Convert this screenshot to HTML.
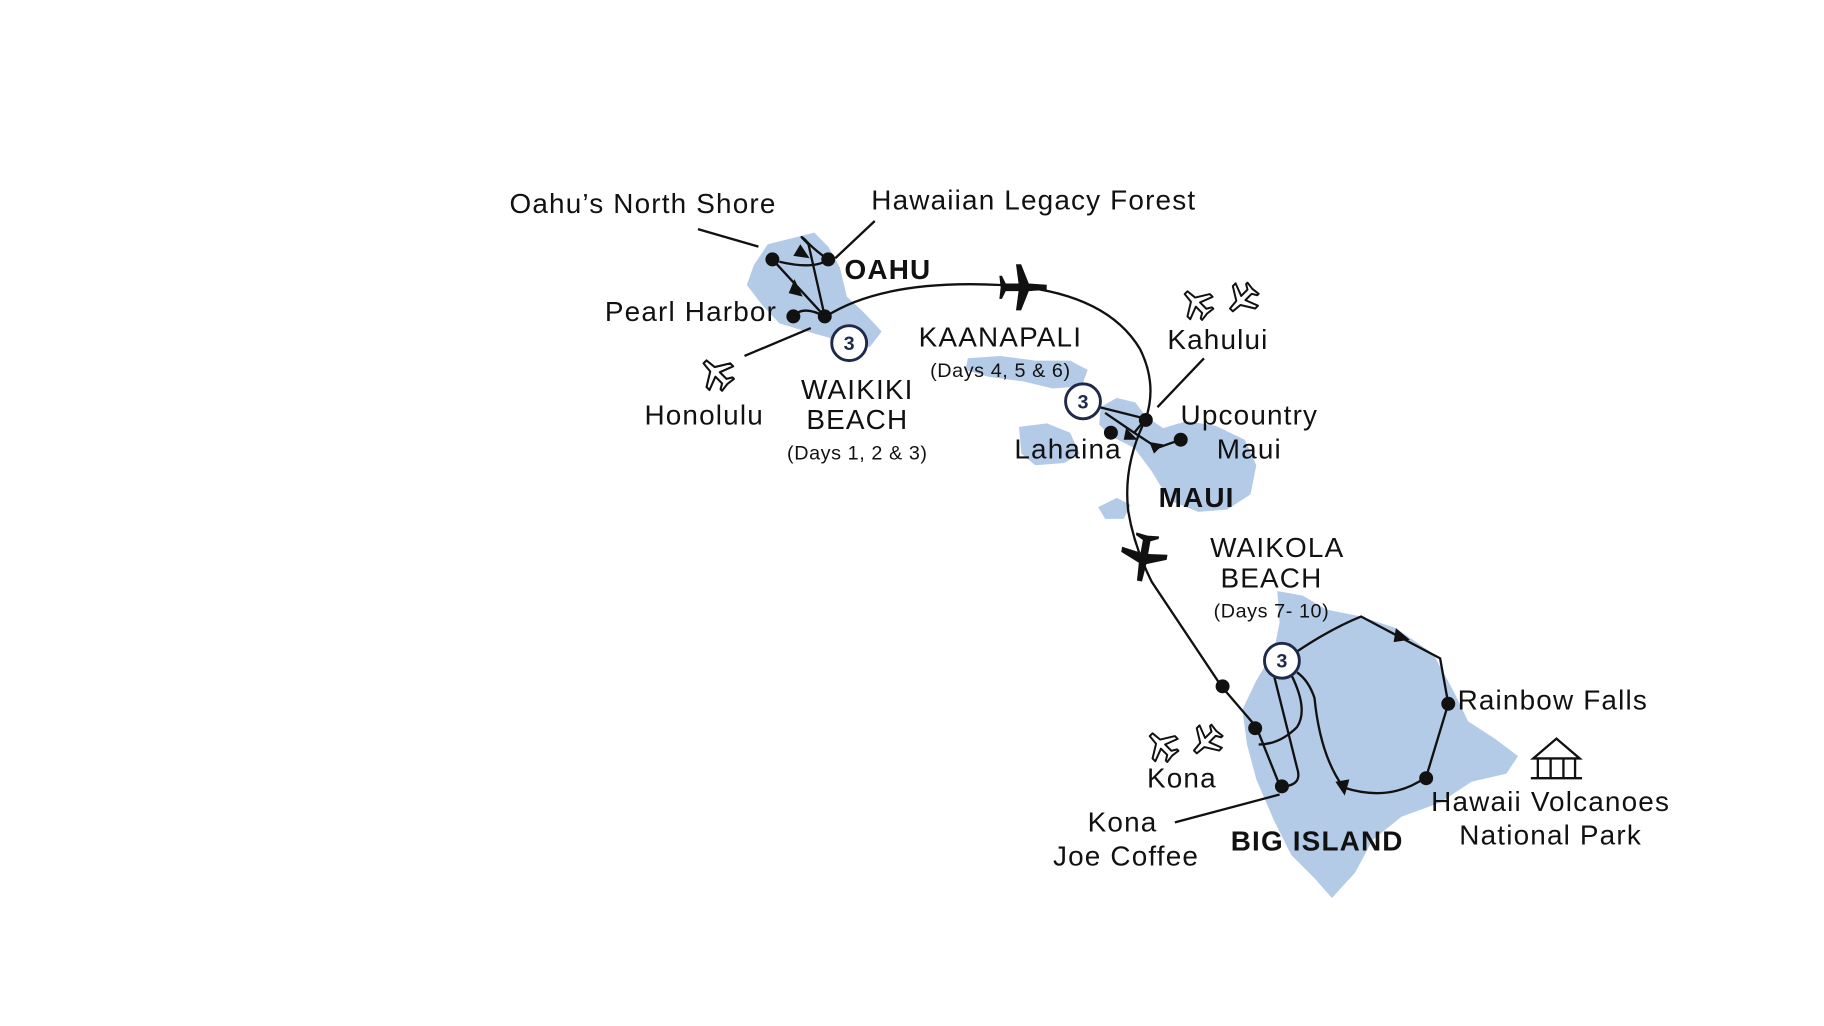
<!DOCTYPE html>
<html><head><meta charset="utf-8"><style>
html,body{margin:0;padding:0;background:#fff;}
svg{display:block;}
text{font-family:"Liberation Sans",sans-serif;fill:#111;}
.l{font-size:24px;letter-spacing:1px;}
.s{font-size:17px;letter-spacing:0.5px;}
.b{font-size:24px;font-weight:bold;letter-spacing:1px;}
</style></head><body>
<svg width="1824" height="1026" viewBox="0 0 1568 882" xmlns="http://www.w3.org/2000/svg">
<defs>
<symbol id="po" viewBox="-20 -20 40 40"><path d="M-14,-2 L-4,-3 L4,-16 L8,-16 L3,-3 L12,-3 L15,-8 L17,-8 L16,0 L17,8 L15,8 L12,3 L3,3 L8,16 L4,16 L-4,3 L-14,2 Z" fill="none" stroke="#111" stroke-width="2" stroke-linejoin="round"/></symbol>
<symbol id="pf" viewBox="-20 -20 40 40"><path d="M-18,-2 L-4,-3 L2,-18 L6,-18 L4,-3 L14,-3 L17,-9 L19,-9 L18,0 L19,9 L17,9 L14,3 L4,3 L6,18 L2,18 L-4,3 L-18,2 Z" fill="#111"/></symbol>
</defs>
<g fill="#b4cbe8">
<path d="M648,228 L660,210 L680,205 L700,200 L712,212 L722,230 L728,255 L742,268 L758,285 L748,298 L730,300 L712,290 L690,284 L670,278 L655,262 L642,245 Z"/>
<path d="M832,308 L860,306 L890,310 L920,310 L935,318 L930,332 L905,334 L880,328 L850,324 L830,318 Z"/>
<path d="M876,367 L900,364 L920,372 L928,390 L915,398 L890,400 L878,390 Z"/>
<path d="M944,436 L960,428 L972,434 L966,446 L950,446 Z"/>
<path d="M946,350 L960,342 L976,346 L985,358 L1000,368 L1020,362 L1045,366 L1070,378 L1080,400 L1075,425 L1055,438 L1030,440 L1005,430 L990,405 L975,385 L955,375 L945,365 Z"/>
<path d="M1098,508 L1120,512 L1140,524 L1170,530 L1200,540 L1232,562 L1250,595 L1262,620 L1285,635 L1305,650 L1295,665 L1265,672 L1238,690 L1205,702 L1180,722 L1165,750 L1145,772 L1130,755 L1110,735 L1095,705 L1080,670 L1072,640 L1068,610 L1080,585 L1095,560 L1100,535 Z"/>
</g>
<g fill="none" stroke="#111" stroke-width="2">
<path d="M710,272 Q760,240 860,245 Q950,250 980,300 Q995,330 985,360"/>
<path d="M709,272 L664,223"/><path d="M709,272 L695,210 Q685,200 692,206 Q700,215 712,223 Q700,232 670,225"/>
<path d="M709,272 Q690,262 682,272"/>
<path d="M985,360 Q965,400 970,440 Q975,470 990,500 L1050,590 L1080,625 L1100,675"/>
<path d="M945,350 L985,360 L975,372 M950,355 L975,372 L995,385 L1015,378"/>
<path d="M1115,560 Q1145,540 1170,530 L1238,566 L1245,605 L1226,668 Q1195,690 1155,677 Q1135,650 1130,600 Q1125,585 1115,578"/>
<path d="M1095,580 L1115,660 Q1120,675 1103,676"/>
<path d="M1110,580 Q1125,610 1115,625 Q1100,640 1082,640"/>
<path d="M652,212 L600,197 M718,222 L752,190 M697,282 L640,306 M995,350 L1035,308 M1100,683 L1010,707"/>
</g>
<g fill="#111">
<circle cx="664" cy="223" r="6"/><circle cx="712" cy="223" r="6"/><circle cx="682" cy="272" r="6"/><circle cx="709" cy="272" r="6"/>
<circle cx="985" cy="361" r="6"/><circle cx="955" cy="372" r="6"/><circle cx="1015" cy="378" r="6"/>
<circle cx="1051" cy="590" r="6"/><circle cx="1079" cy="626" r="6"/><circle cx="1102" cy="676" r="6"/><circle cx="1245" cy="605" r="6"/><circle cx="1226" cy="669" r="6"/>
<path d="M683,240 L690,255 L678,252Z"/><path d="M688,210 L696,222 L682,220Z"/>
<path d="M968,368 L978,378 L966,378Z"/><path d="M988,380 L1000,382 L992,390Z"/>
<path d="M1200,540 L1212,550 L1198,552Z"/><path d="M1148,672 L1160,670 L1156,684Z"/>
</g>
<g transform="translate(880,247) rotate(180)"><use href="#pf" x="-22" y="-22" width="44" height="44"/></g>
<g transform="translate(983,480) rotate(-80)"><use href="#pf" x="-22" y="-22" width="44" height="44"/></g>
<g transform="translate(615,320) rotate(45)"><use href="#po" x="-18" y="-18" width="36" height="36"/></g>
<g transform="translate(1028,260) rotate(45)"><use href="#po" x="-17" y="-17" width="34" height="34"/></g>
<g transform="translate(1067,258) rotate(-45)"><use href="#po" x="-17" y="-17" width="34" height="34"/></g>
<g transform="translate(998,640) rotate(45)"><use href="#po" x="-17" y="-17" width="34" height="34"/></g>
<g transform="translate(1036,638) rotate(-45)"><use href="#po" x="-17" y="-17" width="34" height="34"/></g>
<g fill="none" stroke="#111" stroke-width="2"><path d="M1318,652 L1338,635 L1358,652 Z M1322,652 L1322,668 M1333,652 L1333,668 M1344,652 L1344,668 M1354,652 L1354,668 M1316,669 L1360,669"/></g>
<g fill="#fff" stroke="#1f2a4a" stroke-width="2.5">
<circle cx="730" cy="295" r="15"/><circle cx="931" cy="345" r="15"/><circle cx="1102" cy="568" r="15"/>
</g>
<g font-size="17" font-weight="bold" text-anchor="middle"><text x="730" y="301" style="fill:#1f2a4a">3</text><text x="931" y="351" style="fill:#1f2a4a">3</text><text x="1102" y="574" style="fill:#1f2a4a">3</text></g>
<text class="l" x="438" y="183">Oahu’s North Shore</text>
<text class="l" x="749" y="180">Hawaiian Legacy Forest</text>
<text class="b" x="726" y="240">OAHU</text>
<text class="l" x="520" y="276">Pearl Harbor</text>
<text class="l" x="554" y="365">Honolulu</text>
<g text-anchor="middle"><text class="l" x="737" y="343">WAIKIKI</text><text class="l" x="737" y="369">BEACH</text><text class="s" x="737" y="395">(Days 1, 2 &amp; 3)</text>
<text class="l" x="860" y="298">KAANAPALI</text><text class="s" x="860" y="324">(Days 4, 5 &amp; 6)</text>
<text class="l" x="1047" y="300">Kahului</text>
<text class="l" x="1074" y="365">Upcountry</text><text class="l" x="1074" y="394">Maui</text>
<text class="l" x="1098" y="479">WAIKOLA</text><text class="l" x="1093" y="505">BEACH</text><text class="s" x="1093" y="531">(Days 7- 10)</text>
<text class="l" x="1016" y="677">Kona</text>
<text class="l" x="965" y="715">Kona</text><text class="l" x="968" y="744">Joe Coffee</text>
<text class="l" x="1333" y="697">Hawaii Volcanoes</text><text class="l" x="1333" y="726">National Park</text>
</g>
<text class="l" x="872" y="394">Lahaina</text>
<text class="b" x="996" y="436">MAUI</text>
<text class="l" x="1253" y="610">Rainbow Falls</text>
<text class="b" x="1058" y="731">BIG ISLAND</text>
</svg>
</body></html>
